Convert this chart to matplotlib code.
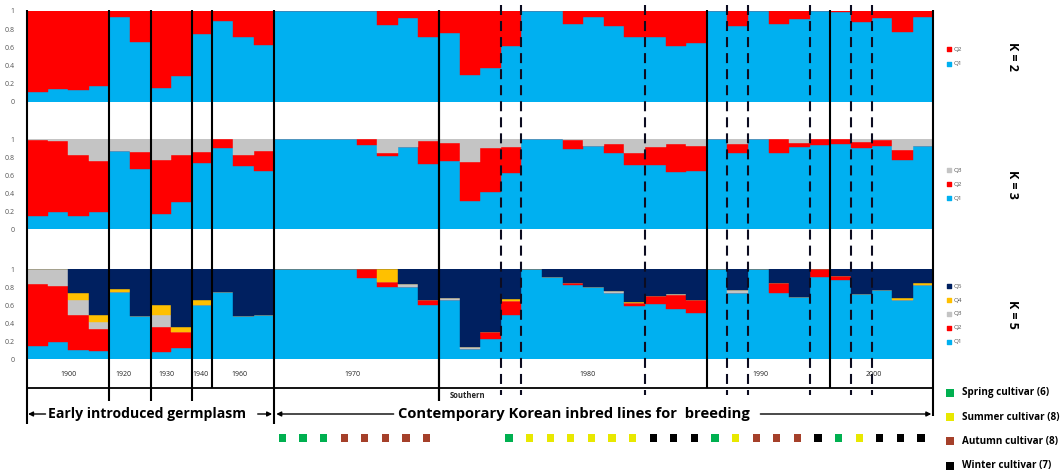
import matplotlib
matplotlib.use("Agg")
import matplotlib.pyplot as plt

plt.rcParams['font.family'] = ['Open Sans', 'DejaVu Sans']

# ---- ancestry proportions for 44 accessions, ordered by period ----
k2_q1 = [0.11, 0.14, 0.13, 0.18, 0.93, 0.66, 0.15, 0.29, 0.75, 0.89, 0.71, 0.63,
         1.0, 1.0, 1.0, 1.0, 1.0, 0.85, 0.92, 0.71, 0.755, 0.30, 0.37, 0.615,
         1.0, 1.0, 0.86, 0.93, 0.835, 0.71, 0.71, 0.61, 0.645, 1.0, 0.835, 1.0,
         0.86, 0.91, 1.0, 0.99, 0.88, 0.92, 0.77, 0.93]
k2_q2 = [0.89, 0.86, 0.87, 0.82, 0.07, 0.34, 0.85, 0.71, 0.25, 0.11, 0.29, 0.37,
         0.0, 0.0, 0.0, 0.0, 0.0, 0.15, 0.08, 0.29, 0.245, 0.70, 0.63, 0.385,
         0.0, 0.0, 0.14, 0.07, 0.165, 0.29, 0.29, 0.39, 0.355, 0.0, 0.165, 0.0,
         0.14, 0.09, 0.0, 0.01, 0.12, 0.08, 0.23, 0.07]

k3_q1 = [0.15, 0.195, 0.15, 0.195, 0.875, 0.667, 0.167, 0.307, 0.74, 0.9, 0.703, 0.648,
         1.0, 1.0, 1.0, 1.0, 0.937, 0.814, 0.918, 0.725, 0.763, 0.315, 0.418, 0.63,
         1.0, 1.0, 0.889, 0.925, 0.851, 0.714, 0.714, 0.64, 0.648, 1.0, 0.844, 1.0,
         0.844, 0.911, 0.937, 0.948, 0.9, 0.925, 0.77, 0.925]
k3_q2 = [0.84, 0.785, 0.675, 0.565, 0.0, 0.188, 0.603, 0.518, 0.122, 0.1, 0.122, 0.222,
         0.0, 0.0, 0.0, 0.0, 0.063, 0.037, 0.0, 0.26, 0.199, 0.437, 0.482, 0.28,
         0.0, 0.0, 0.103, 0.0, 0.097, 0.137, 0.197, 0.308, 0.277, 0.0, 0.104, 0.0,
         0.156, 0.051, 0.063, 0.052, 0.073, 0.065, 0.111, 0.0]
k3_q3 = [0.01, 0.02, 0.175, 0.24, 0.125, 0.145, 0.23, 0.175, 0.138, 0.0, 0.175, 0.13,
         0.0, 0.0, 0.0, 0.0, 0.0, 0.149, 0.082, 0.015, 0.038, 0.248, 0.1, 0.09,
         0.0, 0.0, 0.008, 0.075, 0.052, 0.149, 0.089, 0.052, 0.075, 0.0, 0.052, 0.0,
         0.0, 0.038, 0.0, 0.0, 0.027, 0.01, 0.119, 0.075]

k5_q1 = [0.148, 0.185, 0.10, 0.089, 0.74, 0.481, 0.081, 0.126, 0.60, 0.74, 0.481, 0.489,
         1.0, 1.0, 1.0, 1.0, 0.904, 0.804, 0.804, 0.60, 0.656, 0.107, 0.219, 0.489,
         1.0, 0.915, 0.822, 0.804, 0.73, 0.593, 0.607, 0.552, 0.507, 1.0, 0.73, 1.0,
         0.73, 0.693, 0.915, 0.878, 0.719, 0.767, 0.656, 0.822]
k5_q2 = [0.682, 0.63, 0.389, 0.244, 0.0, 0.0, 0.278, 0.17, 0.0, 0.0, 0.0, 0.0,
         0.0, 0.0, 0.0, 0.0, 0.096, 0.055, 0.0, 0.056, 0.0, 0.0, 0.085, 0.155,
         0.0, 0.0, 0.019, 0.0, 0.0, 0.026, 0.097, 0.159, 0.149, 0.0, 0.0, 0.0,
         0.111, 0.0, 0.085, 0.048, 0.0, 0.0, 0.0, 0.0]
k5_q3 = [0.17, 0.185, 0.167, 0.074, 0.0, 0.0, 0.13, 0.0, 0.0, 0.0, 0.0, 0.005,
         0.0, 0.0, 0.0, 0.0, 0.0, 0.0, 0.026, 0.0, 0.026, 0.03, 0.0, 0.0,
         0.0, 0.0, 0.0, 0.0, 0.026, 0.0, 0.0, 0.011, 0.0, 0.0, 0.037, 0.0,
         0.0, 0.0, 0.0, 0.0, 0.0, 0.0, 0.0, 0.0]
k5_q4 = [0.0, 0.0, 0.074, 0.082, 0.038, 0.0, 0.111, 0.063, 0.056, 0.0, 0.0, 0.0,
         0.0, 0.0, 0.0, 0.0, 0.0, 0.141, 0.0, 0.0, 0.0, 0.0, 0.0, 0.023,
         0.0, 0.0, 0.0, 0.0, 0.0, 0.018, 0.0, 0.0, 0.0, 0.0, 0.0, 0.0,
         0.0, 0.0, 0.0, 0.0, 0.0, 0.0, 0.026, 0.019]
k5_q5 = [0.0, 0.0, 0.27, 0.511, 0.222, 0.519, 0.40, 0.641, 0.344, 0.26, 0.519, 0.506,
         0.0, 0.0, 0.0, 0.0, 0.0, 0.0, 0.17, 0.344, 0.318, 0.863, 0.696, 0.333,
         0.0, 0.085, 0.159, 0.196, 0.244, 0.363, 0.296, 0.278, 0.344, 0.0, 0.233, 0.0,
         0.159, 0.307, 0.0, 0.074, 0.281, 0.233, 0.318, 0.159]

# period groups (first accession index of each group) and their labels
group_edges = [0, 4, 6, 8, 9, 12, 20, 33, 39, 44]
period_labels = ['1900', '1920', '1930', '1940', '1960', '1970', '1980', '1990', '2000']
label_shift = [0.0, -0.3, -0.25, -0.1, -0.2, -0.2, 0.7, -0.4, -0.4]
dashed_edges = [23, 24, 30, 34, 35, 38, 40, 41]

# growing-season type of the bred cultivars (accession index -> season)
season_index = list(range(12, 20)) + list(range(23, 44))
season_type = ['Spring', 'Spring', 'Spring', 'Autumn', 'Autumn', 'Autumn', 'Autumn', 'Autumn',
               'Spring', 'Summer', 'Summer', 'Summer', 'Summer', 'Summer', 'Summer',
               'Winter', 'Winter', 'Winter', 'Spring', 'Summer', 'Autumn', 'Autumn',
               'Autumn', 'Winter', 'Spring', 'Summer', 'Winter', 'Winter', 'Winter']
season_names = ['Spring', 'Summer', 'Autumn', 'Winter']
season_counts = [6, 8, 8, 7]

Q_COLORS = ['#00B0F0', '#FF0000', '#C4C4C4', '#FFC000', '#002060']
SEASON_COLORS = {'Spring': '#00B050', 'Summer': '#E8E800', 'Autumn': '#A5402A', 'Winter': '#000000'}

# ---- layout (pixels) ----
FIG_W, FIG_H = 1060, 472
X0, BW = 27.0, 20.6
N = len(k2_q1)
panels = [  # (top_px, bottom_px, label, components)
    (11.0, 102.0, 'K = 2', [k2_q1, k2_q2]),
    (139.3, 229.3, 'K = 3', [k3_q1, k3_q2, k3_q3]),
    (269.0, 359.0, 'K = 5', [k5_q1, k5_q2, k5_q3, k5_q4, k5_q5]),
]

fig = plt.figure(figsize=(FIG_W / 100, FIG_H / 100), dpi=100)
fig.patch.set_facecolor('white')

for top, bot, klabel, comps in panels:
    ax = fig.add_axes([X0 / FIG_W, 1 - bot / FIG_H, N * BW / FIG_W, (bot - top) / FIG_H])
    base = [0.0] * N
    for ci, comp in enumerate(comps):
        ax.bar(range(N), comp, bottom=base, width=1.0, align='edge',
               color=Q_COLORS[ci], edgecolor=Q_COLORS[ci], linewidth=0.3)
        base = [b + c for b, c in zip(base, comp)]
    ax.set_xlim(0, N)
    ax.set_ylim(0, 1)
    ax.set_xticks([])
    ax.set_yticks([0, 0.2, 0.4, 0.6, 0.8, 1.0])
    ax.set_yticklabels(['0', '0.2', '0.4', '0.6', '0.8', '1'])
    ax.tick_params(axis='y', length=0, pad=9, labelsize=5, labelcolor='#555555')
    for s in ax.spines.values():
        s.set_visible(False)
    # component legend to the right of the panel, highest component on top
    n = len(comps)
    for ci in range(n):
        ypos = 0.5 + (ci - (n - 1) / 2) * 0.155
        ax.scatter([N + 0.75], [ypos], marker='s', s=6, color=Q_COLORS[ci], clip_on=False)
        ax.text(N + 1.0, ypos, 'Q%d' % (ci + 1), fontsize=4.5, color='#555555',
                va='center', ha='left')
    ax.text(N + 3.85, 0.5, klabel, rotation=270, fontsize=9, fontweight='bold',
            ha='center', va='center')

# overlay for separators, axis and annotations (x in accession units, y in pixels)
ov = fig.add_axes([0, 0, 1, 1], zorder=10)
ov.set_xlim(-X0 / BW, (FIG_W - X0) / BW)
ov.set_ylim(FIG_H, 0)
ov.axis('off')
ov.patch.set_alpha(0)

AXIS_Y = 388
long_ticks = {0: 424, 12: 424, 44: 416}
mid_ticks = {4: 401, 6: 401, 8: 401, 20: 401}
for e in group_edges:
    ybot = long_ticks.get(e, mid_ticks.get(e, AXIS_Y))
    ov.plot([e, e], [10, ybot], color='black', lw=1.5, solid_capstyle='butt')
# boundary between 1970 and southern lines
ov.plot([20, 20], [10, 401], color='black', lw=1.5, solid_capstyle='butt')
for e in dashed_edges:
    ov.plot([e, e], [5, 395], color='#0c0c20', lw=1.5, dashes=(4.8, 2.9))
ov.plot([0, N], [AXIS_Y, AXIS_Y], color='black', lw=1.3)

# period labels
for i, lab in enumerate(period_labels):
    cx = (group_edges[i] + group_edges[i + 1]) / 2 + label_shift[i]
    ov.text(cx, 374, lab, fontsize=5, color='#222222', ha='center', va='center')
ov.text(20.5, 396, 'Southern', fontsize=5.5, fontweight='bold', color='#222222',
        ha='left', va='center')

# germplasm brackets
ARROW_Y = 414
arr = dict(arrowstyle='-|>', lw=1.0, color='black', mutation_scale=7, shrinkA=0, shrinkB=0)
ov.annotate('', xy=(0.05, ARROW_Y), xytext=(0.9, ARROW_Y), arrowprops=arr)
ov.text(1.0, ARROW_Y, 'Early introduced germplasm', fontsize=10.1, fontweight='bold',
        ha='left', va='center')
ov.annotate('', xy=(11.9, ARROW_Y), xytext=(11.2, ARROW_Y), arrowprops=arr)
ov.annotate('', xy=(12.1, ARROW_Y), xytext=(17.8, ARROW_Y), arrowprops=arr)
ov.text(18.0, ARROW_Y, 'Contemporary Korean inbred lines for  breeding', fontsize=10.6,
        fontweight='bold', ha='left', va='center')
ov.annotate('', xy=(43.9, ARROW_Y), xytext=(35.6, ARROW_Y), arrowprops=arr)

# season of each bred cultivar
ov.scatter([i + 0.4 for i in season_index], [438] * len(season_index), marker='s', s=26,
           color=[SEASON_COLORS[s] for s in season_type], linewidths=0)

# season legend
for j, (name, cnt) in enumerate(zip(season_names, season_counts)):
    yy = 393 + j * 24.2
    ov.scatter([44.8], [yy], marker='s', s=30, color=SEASON_COLORS[name], linewidths=0,
               clip_on=False)
    ov.text(45.4, yy, '%s cultivar (%d)' % (name, cnt), fontsize=7.1, fontweight='bold',
            ha='left', va='center')

fig.savefig('out.png', dpi=100, facecolor='white')
